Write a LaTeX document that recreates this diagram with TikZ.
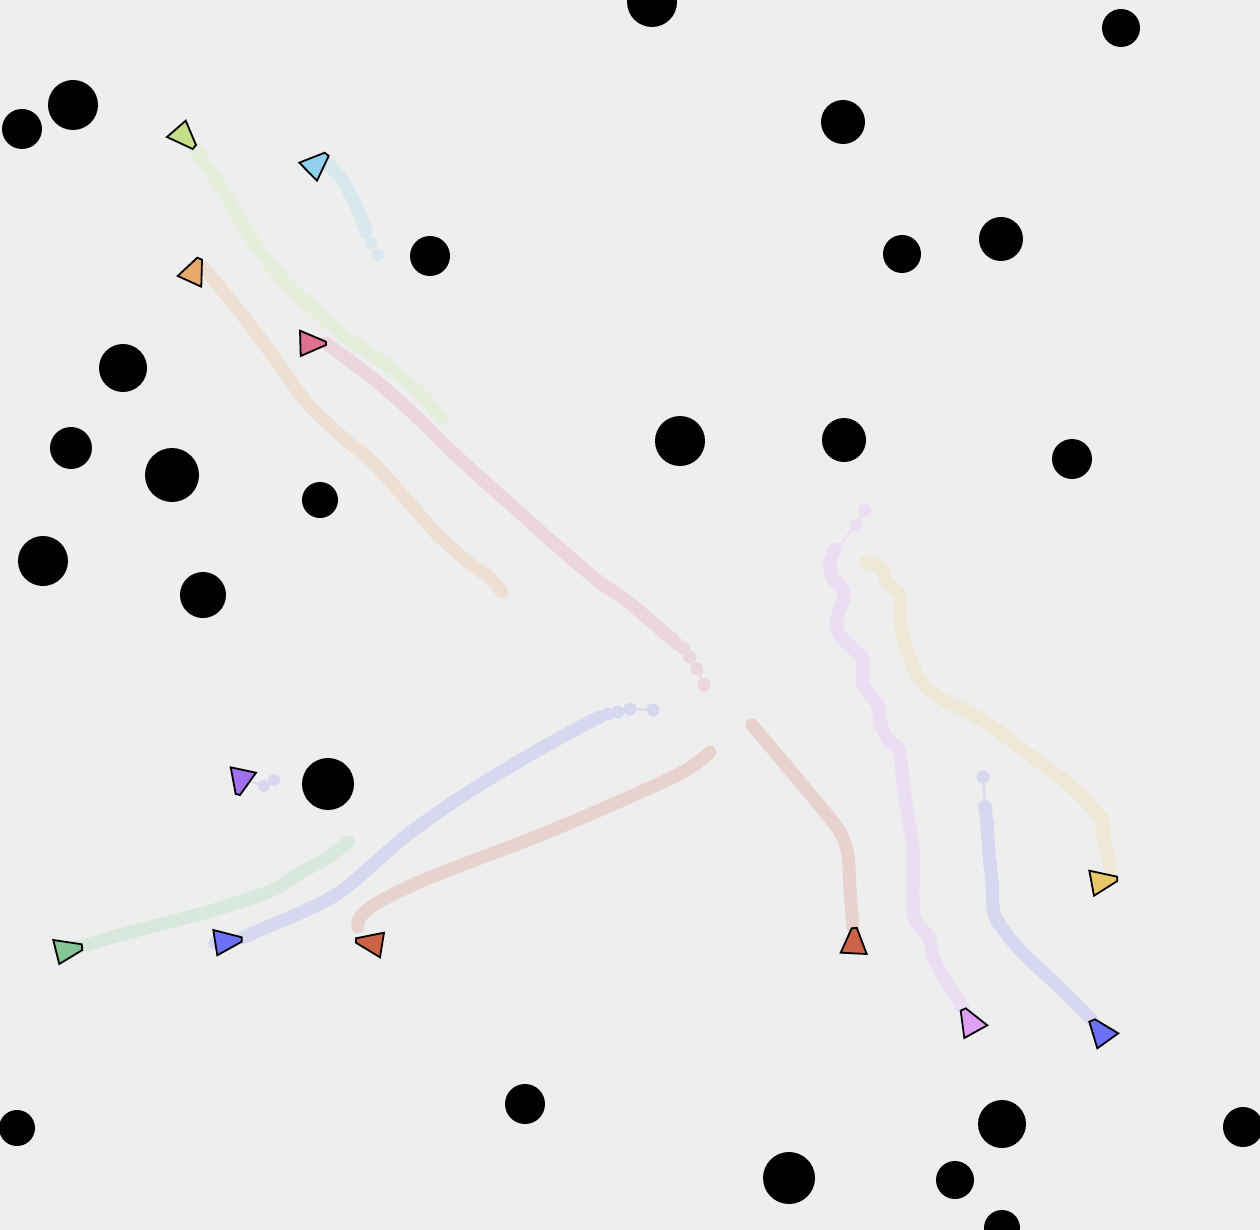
\documentclass[tikz,border=0pt]{standalone}
\begin{document}
\definecolor{bg}{HTML}{EEEEEE}
\definecolor{tGY}{HTML}{E5EEDB}
\definecolor{tLB}{HTML}{D9E8EF}
\definecolor{tOR}{HTML}{EDE0D2}
\definecolor{tPK}{HTML}{ECD6DD}
\definecolor{tLV}{HTML}{D7D7EF}
\definecolor{tRD}{HTML}{E8D2CE}
\definecolor{tGR}{HTML}{D9E8DE}
\definecolor{tPV}{HTML}{EBDDF2}
\definecolor{tYE}{HTML}{EFE8D6}
\definecolor{tPU}{HTML}{DCD5F1}
\definecolor{fGY}{HTML}{C5DF86}
\definecolor{fLB}{HTML}{90D0EF}
\definecolor{fOR}{HTML}{E7A96A}
\definecolor{fPK}{HTML}{DE7090}
\definecolor{fPU}{HTML}{A070F0}
\definecolor{fBL}{HTML}{6B70F5}
\definecolor{fRD}{HTML}{CC6347}
\definecolor{fPV}{HTML}{E0A0F5}
\definecolor{fYE}{HTML}{E8C868}
\definecolor{fGR}{HTML}{85C596}
\begin{tikzpicture}[x=1pt,y=-1pt,
  trail/.style={line width=13pt,line cap=round,line join=round},
  thin trail/.style={line width=2pt},
  boid/.style={draw=black,line width=1.8pt,line join=miter},
  obstacle/.style={fill=black}]
\useasboundingbox (0,0) rectangle (1260,1230);
\clip (0,0) rectangle (1260,1230);
\fill[bg] (0,0) rectangle (1260,1230);

% ---- obstacles
\foreach \x/\y/\r in {652/2/25, 1121/28/19, 73/105/25, 22/129/20, 843/122/22,
  430/256/20, 902/254/19, 1001/239/22, 123/368/24, 71/448/21, 172/475/27,
  680/441/25, 844/440/22, 1072/459/20, 320/500/18, 43/561/25, 203/595/23,
  328/784/26, 17/1128/18, 525/1104/20, 1002/1124/24, 1243/1127/20,
  789/1178/26, 955/1180/19, 1002/1228/18}
  \fill[obstacle] (\x,\y) circle (\r);

% ---- trails
% green-yellow
\draw[trail,tGY] plot[smooth] coordinates {(194,148) (223,190) (250,237) (283,280) (317,312) (347,338) (397,373) (423,397) (442,418)};
% light blue
\draw[trail,tLB] plot[smooth] coordinates {(327,163) (340,177) (352,197) (361,217) (366,232)};
\foreach \p in {(366,232),(371,243),(378,255)} \fill[tLB] \p circle (6);
% orange
\draw[trail,tOR] plot[smooth] coordinates {(203,267) (240,312) (270,352) (303,398) (327,423) (347,441) (367,457) (380,470) (407,500) (433,530) (453,549) (473,566) (488,576) (502,592)};
% pink
\draw[trail,tPK] plot[smooth,tension=0.5] coordinates {(326,343) (370,376) (397,399) (423,423) (447,447) (473,471) (520,513) (550,540) (597,580) (627,601) (653,623) (673,640)};
\draw[thin trail,tPK] (673,640) -- (683,648) -- (690,657) -- (697,669) -- (704,685);
\foreach \p in {(673,640),(677,644),(683,648),(690,657),(697,669),(704,685)} \fill[tPK] \p circle (6.5);
% lavender (blue, lower left)
\draw[trail,tLV] plot[smooth,tension=0.5] coordinates {(242,938) (267,927) (300,913) (343,890) (407,835) (467,793) (533,753) (580,727) (600,717)};
\draw[thin trail,tLV] (600,717) -- (618,712) -- (630,709) -- (653,710);
\foreach \p in {(215,943),(600,717),(608,714),(618,712),(630,709),(653,710)} \fill[tLV] \p circle (6.5);
% red-orange (lower left)
\draw[trail,tRD] plot[smooth] coordinates {(358,927) (360,917) (377,903) (417,883) (467,863) (533,838) (600,810) (667,780) (693,766) (710,752)};
% red (right)
\draw[trail,tRD] plot[smooth] coordinates {(752,725) (790,770) (820,806) (840,832) (848,855) (850,890) (853,927)};
% green (bottom left)
\draw[trail,tGR] plot[smooth] coordinates {(60,950) (82,946) (120,935) (200,914) (233,904) (273,890) (300,873) (327,858) (348,842)};
% purple small
\draw[thin trail,tPU] (252,782) -- (264,786) -- (274,780);
\foreach \p in {(264,786),(274,780)} \fill[tPU] \p circle (6);
% pink-violet
\draw[thin trail,tPV] (865,510) -- (856,525) -- (835,550);
\foreach \p in {(865,510),(856,525)} \fill[tPV] \p circle (6.5);
\draw[trail,tPV] plot[smooth] coordinates {(835,550) (830,562) (832,577) (843,590) (843,601) (837,618) (838,633) (852,648) (862,657) (863,667) (863,683) (868,692) (878,705) (880,722) (888,740) (899,750) (903,783) (908,817) (913,847) (913,883) (913,900) (915,920) (929,938) (933,957) (947,983) (963,1008)};
\foreach \p in {(835,550),(830,562),(843,590),(843,601),(837,618),(863,660),(863,683),(878,705),(880,722),(899,750),(913,883),(915,920),(929,938)} \fill[tPV] \p circle (7);
% blue right
\draw[thin trail,tLV] (983,777) -- (985,807);
\fill[tLV] (983,777) circle (6.5);
\draw[trail,tLV] plot[smooth] coordinates {(985,807) (987,823) (988,840) (990,863) (992,883) (993,907) (998,922) (1020,950) (1060,988) (1092,1020)};
\foreach \p in {(985,807),(987,823),(990,863),(992,883),(993,907),(998,922)} \fill[tLV] \p circle (7);
% yellow
\draw[trail,tYE] plot[smooth] coordinates {(867,562) (882,569) (887,583) (898,592) (900,603) (900,620) (907,650) (920,680) (940,698) (970,713) (997,730) (1027,753) (1060,777) (1080,795) (1097,813) (1102,820) (1103,837) (1108,853) (1110,870)};
\foreach \p in {(867,562),(882,569),(898,592),(1102,820),(1103,833),(1108,853)} \fill[tYE] \p circle (7);

% ---- boids
\draw[boid,fill=fGY] (167,137) -- (185.7,120.7) -- (196,145) -- (192.7,149) -- cycle;
\draw[boid,fill=fLB] (299.3,162.7) -- (324.7,152.7) -- (328.7,156) -- (317,180.7) -- cycle;
\draw[boid,fill=fOR] (177.7,276) -- (197.3,257.7) -- (202,259.7) -- (201.3,286.7) -- cycle;
\draw[boid,fill=fPK] (300,330.7) -- (326,341.7) -- (326,345) -- (300.7,356) -- cycle;
\draw[boid,fill=fPU] (230.7,767.3) -- (256,772.7) -- (240,795) -- (235.7,794) -- cycle;
\draw[boid,fill=fBL] (213.3,930) -- (241.7,937.3) -- (241.7,941.7) -- (217.3,955.3) -- cycle;
\draw[boid,fill=fRD] (356,938.3) -- (384,932.7) -- (380,957.3) -- (356,942.7) -- cycle;
\draw[boid,fill=fRD] (840.7,952.7) -- (851.7,928.3) -- (856.7,927.7) -- (866.7,954) -- cycle;
\draw[boid,fill=fPV] (960.7,1010.7) -- (965.7,1008.3) -- (987.3,1025.3) -- (964.3,1038) -- cycle;
\draw[boid,fill=fBL] (1089.3,1021.7) -- (1095,1019.3) -- (1118.3,1033.3) -- (1097.3,1048.3) -- cycle;
\draw[boid,fill=fYE] (1089.3,870.7) -- (1117.3,876.7) -- (1117.3,881) -- (1094,895.7) -- cycle;
\draw[boid,fill=fGR] (53.3,940) -- (81.7,944.3) -- (82.3,950) -- (59.3,964) -- cycle;
\end{tikzpicture}
\end{document}
